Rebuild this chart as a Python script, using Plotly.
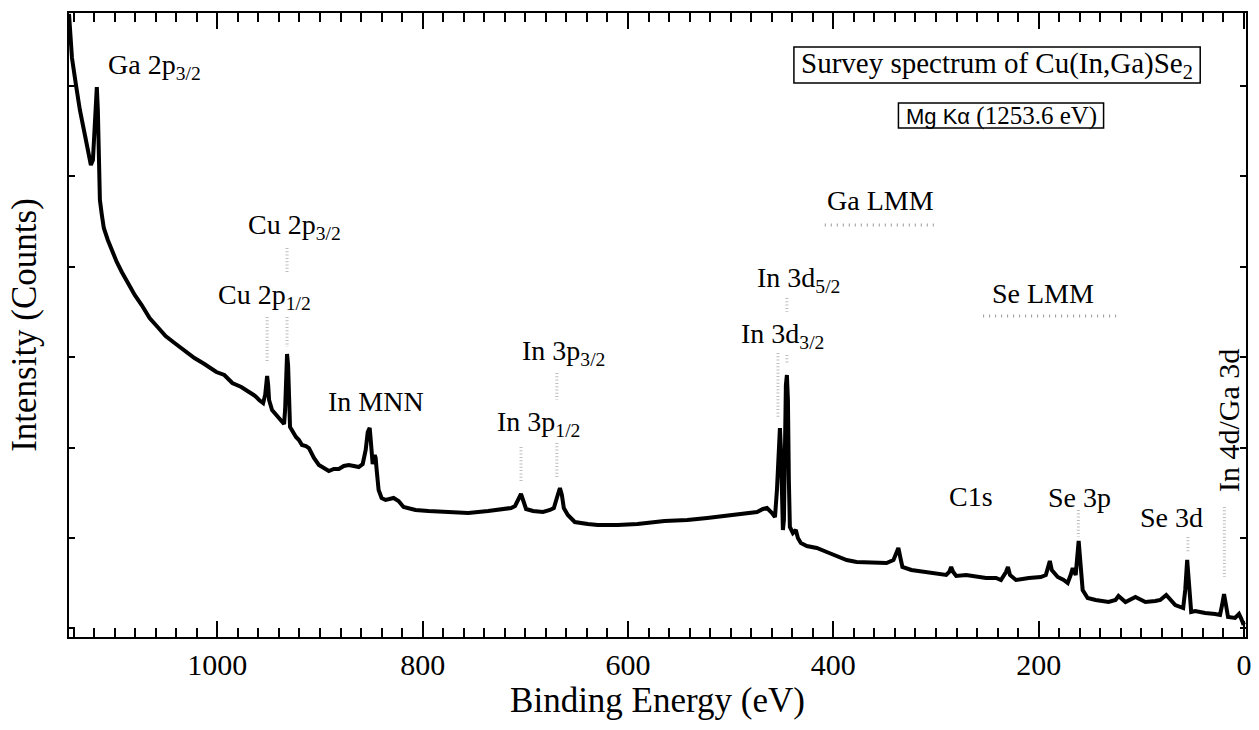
import plotly.graph_objects as go

# XPS survey scan: binding energy (eV) and intensity (counts)
energy = [
    1144.5, 1143.5, 1141.6, 1137.7, 1133.9, 1129.0, 1125.1, 1123.2, 1121.2, 1119.3,
    1118.3, 1117.4, 1116.4, 1115.4, 1114.4, 1112.5, 1110.6, 1106.7, 1102.8, 1098.0,
    1093.1, 1087.3, 1080.5, 1073.7, 1066.0, 1058.2, 1050.4, 1041.7, 1032.0, 1022.3,
    1012.6, 1001.0, 993.2, 985.4, 976.7, 969.0, 963.1, 959.3, 955.4, 953.4,
    952.5, 951.5, 950.5, 949.6, 946.7, 942.8, 938.9, 935.0, 934.0, 933.1,
    932.1, 931.1, 930.2, 929.2, 926.3, 923.4, 920.5, 917.6, 913.7, 910.8,
    905.9, 901.1, 896.2, 891.4, 886.5, 881.7, 876.8, 872.0, 867.1, 862.3,
    858.4, 855.5, 853.5, 851.6, 850.6, 848.7, 846.7, 845.8, 844.8, 842.9,
    840.0, 836.1, 828.3, 823.5, 818.6, 807.0, 794.4, 775.0, 755.6, 736.2,
    726.5, 713.9, 710.0, 707.1, 704.2, 702.2, 699.3, 692.5, 682.8, 676.0,
    672.2, 669.3, 666.3, 664.4, 662.5, 658.6, 651.8, 639.2, 629.5, 610.1,
    590.7, 564.5, 542.2, 522.8, 500.5, 484.0, 474.3, 468.5, 464.6, 459.7,
    456.8, 454.9, 453.0, 452.0, 451.0, 450.0, 449.1, 448.1, 447.1, 446.2,
    445.2, 444.2, 443.3, 442.3, 439.4, 436.5, 434.5, 431.6, 425.8, 416.1,
    406.4, 396.7, 387.0, 377.3, 367.6, 357.9, 348.2, 341.4, 338.5, 336.6,
    334.6, 332.7, 324.0, 309.4, 294.9, 290.0, 287.1, 285.2, 283.2, 280.3,
    270.6, 260.9, 251.2, 241.5, 236.7, 231.8, 229.9, 227.9, 222.1, 209.5,
    197.9, 193.0, 191.1, 189.1, 187.2, 181.4, 175.6, 171.7, 168.8, 166.8,
    163.9, 162.9, 161.0, 159.1, 157.1, 152.3, 144.5, 131.9, 125.1, 122.2,
    118.3, 115.4, 105.7, 96.0, 86.3, 81.5, 75.7, 71.8, 66.9, 59.2,
    57.2, 55.3, 53.3, 51.4, 47.5, 43.6, 37.8, 28.1, 23.3, 21.3,
    19.4, 17.5, 15.5, 8.7, 4.8, 2.9, 1.0, -1.0,
]
counts = [
    62300, 60700, 57900, 55200, 52700, 50200, 48200, 47200, 47700, 50700,
    53700, 55000, 52700, 46700, 43700, 42200, 40900, 39700, 38700, 37500,
    36500, 35400, 34200, 33200, 31900, 31000, 30100, 29400, 28600, 27900,
    27300, 26500, 26200, 25400, 25000, 24500, 24100, 23700, 23400, 24200,
    25700, 26100, 25200, 23700, 22700, 22200, 21700, 21300, 22700, 26700,
    28300, 27200, 22700, 21000, 20500, 20000, 19700, 19200, 19100, 18900,
    17900, 17200, 16900, 16600, 16800, 16800, 17100, 17200, 17100, 17000,
    17300, 18700, 20500, 20900, 19700, 17300, 18200, 17900, 16700, 14700,
    13900, 13700, 13900, 13600, 13000, 12700, 12600, 12500, 12400, 12600,
    12700, 12900, 13100, 13700, 14300, 13700, 12800, 12600, 12500, 12700,
    12900, 13900, 14900, 14200, 12900, 12200, 11500, 11300, 11200, 11200,
    11300, 11600, 11700, 11900, 12200, 12400, 12500, 12800, 12900, 12400,
    12000, 14700, 19700, 20900, 18700, 12700, 10700, 11700, 19700, 25200,
    26200, 23700, 15700, 11000, 10400, 10700, 9900, 9400, 9100, 8900,
    8500, 8100, 7700, 7500, 7500, 7400, 7400, 7700, 8500, 8900,
    7900, 7000, 6700, 6500, 6300, 6200, 6500, 7000, 6500, 6100,
    6200, 6000, 5900, 5900, 5700, 6500, 7000, 6200, 5700, 5900,
    6000, 6200, 6900, 7600, 6700, 6000, 5700, 5400, 6200, 6900,
    6200, 7700, 9600, 7200, 4700, 3900, 3700, 3500, 3700, 4100,
    3700, 3500, 4000, 3500, 3600, 3700, 4200, 3700, 3200, 2900,
    4700, 7700, 4200, 2500, 2600, 2500, 2400, 2300, 2200, 3200,
    4300, 3200, 2000, 1900, 2300, 1900, 1400, 1500,
]

# Peak labels: text, anchor energy (eV), anchor intensity
peak_labels = ["Ga 2p<sub>3/2</sub>", "Cu 2p<sub>3/2</sub>", "Cu 2p<sub>1/2</sub>",
               "In MNN", "In 3p<sub>1/2</sub>", "In 3p<sub>3/2</sub>",
               "In 3d<sub>5/2</sub>", "In 3d<sub>3/2</sub>", "Ga LMM", "Se LMM",
               "C1s", "Se 3p", "Se 3d"]
label_energy = [1108.6, 971.9, 1001.0, 894.3, 729.4, 705.1,
                476.2, 491.8, 408.3, 247.3, 289.0, 193.0, 102.8]
label_counts = [57100, 41100, 34100, 23600, 21400, 28500,
                35800, 30200, 43700, 34400, 14100, 14000, 12000]

# Marker lines under the labels: energy, start and end intensity
marker_energy = [932.1, 932.1, 951.5, 669.3, 669.3, 704.2, 445.2, 445.2,
                 453.9, 161.3, 54.6, 19.1]
marker_top = [38900, 32000, 32000, 26400, 19400, 19000, 33900, 28200,
              28400, 12700, 10000, 13000]
marker_bottom = [36500, 29000, 27400, 23700, 16000, 15400, 32500, 27400,
                 21900, 10000, 8500, 6000]

# Auger regions: start and end energy, intensity level
auger_start = [408.3, 254.1]
auger_end = [300.6, 123.2]
auger_level = [41200, 32100]

SERIF = "Liberation Serif, Times New Roman, serif"
SANS = "Liberation Sans, Arial, sans-serif"

fig = go.Figure()
fig.add_trace(go.Scatter(
    x=energy, y=counts, mode="lines",
    line=dict(color="black", width=4),
    hoverinfo="skip", showlegend=False,
))

for e, y0, y1 in zip(marker_energy, marker_top, marker_bottom):
    fig.add_shape(type="line", xref="x", yref="y", x0=e, x1=e, y0=y0, y1=y1,
                  line=dict(color="#bdbdbd", width=3, dash="1px,2.3px"))

for e0, e1, y in zip(auger_start, auger_end, auger_level):
    fig.add_shape(type="line", xref="x", yref="y", x0=e0, x1=e1, y0=y, y1=y,
                  line=dict(color="#9a9a9a", width=3, dash="1px,5px"))

for txt, e, y in zip(peak_labels, label_energy, label_counts):
    fig.add_annotation(x=e, y=y, xref="x", yref="y", text=txt, showarrow=False,
                       xanchor="left", yanchor="middle",
                       font=dict(family=SERIF, size=28, color="black"))

fig.add_annotation(x=15.5, y=21600, xref="x", yref="y", text="In 4d/Ga 3d",
                   textangle=-90, showarrow=False, xanchor="center", yanchor="middle",
                   font=dict(family=SERIF, size=30, color="black"))

# Sample / source info boxes (frames drawn tight around the text)
fig.add_shape(type="rect", xref="paper", yref="paper",
              x0=0.6159, x1=0.9611, y0=0.8878, y1=0.9455,
              line=dict(color="black", width=1.5), fillcolor="white", layer="above")
fig.add_annotation(x=0.7885, y=0.9167, xref="paper", yref="paper",
                   text="Survey spectrum of Cu(In,Ga)Se<sub>2</sub>",
                   showarrow=False, xanchor="center", yanchor="middle",
                   font=dict(family=SERIF, size=29, color="black"))

fig.add_shape(type="rect", xref="paper", yref="paper",
              x0=0.7047, x1=0.8790, y0=0.8157, y1=0.8558,
              line=dict(color="black", width=1.5), fillcolor="white", layer="above")
fig.add_annotation(x=0.7919, y=0.8357, xref="paper", yref="paper",
                   text='<span style="font-family:Liberation Sans, Arial, sans-serif;'
                        'font-size:22px">Mg K\u03b1</span> (1253.6 eV)',
                   showarrow=False, xanchor="center", yanchor="middle",
                   font=dict(family=SERIF, size=25, color="black"))

fig.update_layout(
    width=1259, height=730,
    margin=dict(l=69, r=8, t=13, b=93),
    plot_bgcolor="white", paper_bgcolor="white",
    font=dict(family=SERIF, color="black"),
    xaxis=dict(
        range=[1144.5, -2],
        tickmode="array", tickvals=[0, 200, 400, 600, 800, 1000],
        ticks="inside", ticklen=16, tickwidth=2, tickcolor="black",
        minor=dict(tick0=0, dtick=20, ticks="inside", ticklen=9, tickwidth=2,
                   tickcolor="black"),
        showline=True, linecolor="black", linewidth=2, mirror="ticks",
        showgrid=False, zeroline=False,
        tickfont=dict(family=SERIF, size=30, color="black"),
        title=dict(text="Binding Energy (eV)", standoff=2,
                   font=dict(family=SERIF, size=35, color="black")),
    ),
    yaxis=dict(
        range=[0, 62400],
        tick0=860, dtick=9040,
        ticks="inside", ticklen=6, tickwidth=2, tickcolor="black",
        showticklabels=False,
        showline=True, linecolor="black", linewidth=2, mirror="ticks",
        showgrid=False, zeroline=False,
        title=dict(text="Intensity (Counts)", standoff=20,
                   font=dict(family=SERIF, size=35, color="black")),
    ),
)

fig.write_html("out.html")
